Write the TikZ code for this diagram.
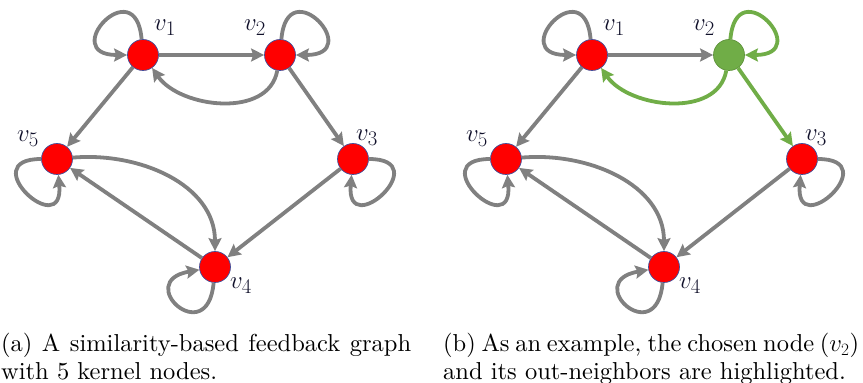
\documentclass[tikz,border=0pt]{standalone}
\usepackage{amsmath}
\usepackage{fontspec}
\usetikzlibrary{arrows.meta, positioning}
\newfontfamily\capfont{lmroman10-regular.otf}
\definecolor{mred}{HTML}{FF0000}
\definecolor{mrim}{HTML}{41509C}
\definecolor{mgreen}{HTML}{70AD47}
\definecolor{mgray}{HTML}{808080}
\definecolor{mink}{HTML}{10102A}
\tikzset{
  knode/.style={circle, draw=mrim, line width=0.7pt, fill=mred,
                minimum size=31pt, inner sep=0pt},
  gnode/.style={knode, draw=mgreen!85!black, fill=mgreen},
  kedge/.style={-{Stealth[length=13pt, width=13pt, inset=2pt]},
                line width=3.8pt, mgray},
  gedge/.style={kedge, mgreen},
  glab/.style={font=\fontsize{31}{34}\selectfont, text=mink, inner sep=0pt},
  capbox/.style={font=\capfont\fontsize{24.5}{28}\selectfont, anchor=north west,
                 align=justify, inner sep=0pt},
}

\begin{document}
\begin{tikzpicture}[x=1pt, y=1pt]
  \useasboundingbox (0,0) rectangle (863,383);

  %% Graph (a)
  \node[knode] (a1) at (143, 328) {};
  \node[knode] (a2) at (280, 328) {};
  \node[knode] (a3) at (353, 224) {};
  \node[knode] (a4) at (215, 116) {};
  \node[knode] (a5) at (57, 224) {};
  \node[glab] (la1) at (165, 355) {$v_1$};
  \node[glab] (la2) at (255, 355) {$v_2$};
  \node[glab] (la3) at (367, 245) {$v_3$};
  \node[glab] (la4) at (241, 97) {$v_4$};
  \node[glab] (la5) at (28, 244) {$v_5$};

  \draw[kedge] (a1) -- (a2);
  \draw[kedge] (a2) to[out=-100, in=-55] (a1);
  \draw[kedge] (a1) -- (a5);
  \draw[kedge] (a2) -- (a3);
  \draw[kedge] (a3) -- (a4);
  \draw[kedge] (a4) -- (a5);
  \draw[kedge] (a5) to[out=5, in=90] (a4);
  \draw[kedge] (a1) to[out=95, in=180, min distance=70pt] (a1);
  \draw[kedge] (a2) to[out=85, in=0, min distance=70pt] (a2);
  \draw[kedge] (a3) to[out=0, in=-95, min distance=68pt] (a3);
  \draw[kedge] (a4) to[out=-95, in=190, min distance=68pt] (a4);
  \draw[kedge] (a5) to[out=180, in=-85, min distance=68pt] (a5);

  \node[capbox, text width=410pt] (capa) at (1, 50)
    {(a) A similarity-based feedback graph with 5 kernel nodes.};

  %% Graph (b)
  \begin{scope}[xshift=449pt]
    \node[knode] (b1) at (143, 328) {};
    \node[gnode] (b2) at (280, 328) {};
    \node[knode] (b3) at (353, 224) {};
    \node[knode] (b4) at (215, 116) {};
    \node[knode] (b5) at (57, 224) {};
    \node[glab] (lb1) at (165, 355) {$v_1$};
    \node[glab] (lb2) at (255, 355) {$v_2$};
    \node[glab] (lb3) at (367, 245) {$v_3$};
    \node[glab] (lb4) at (241, 97) {$v_4$};
    \node[glab] (lb5) at (28, 244) {$v_5$};

    \draw[kedge] (b1) -- (b2);
    \draw[gedge] (b2) to[out=-100, in=-55] (b1);
    \draw[kedge] (b1) -- (b5);
    \draw[gedge] (b2) -- (b3);
    \draw[kedge] (b3) -- (b4);
    \draw[kedge] (b4) -- (b5);
    \draw[kedge] (b5) to[out=5, in=90] (b4);
    \draw[kedge] (b1) to[out=95, in=180, min distance=70pt] (b1);
    \draw[gedge] (b2) to[out=85, in=0, min distance=70pt] (b2);
    \draw[kedge] (b3) to[out=0, in=-95, min distance=68pt] (b3);
    \draw[kedge] (b4) to[out=-95, in=190, min distance=68pt] (b4);
    \draw[kedge] (b5) to[out=180, in=-85, min distance=68pt] (b5);
  \end{scope}

  \node[capbox, text width=416pt] (capb) at (443, 50)
    {(b) As an example, the chosen node ($v_2$) and its out-neighbors are highlighted.};

\end{tikzpicture}
\end{document}
